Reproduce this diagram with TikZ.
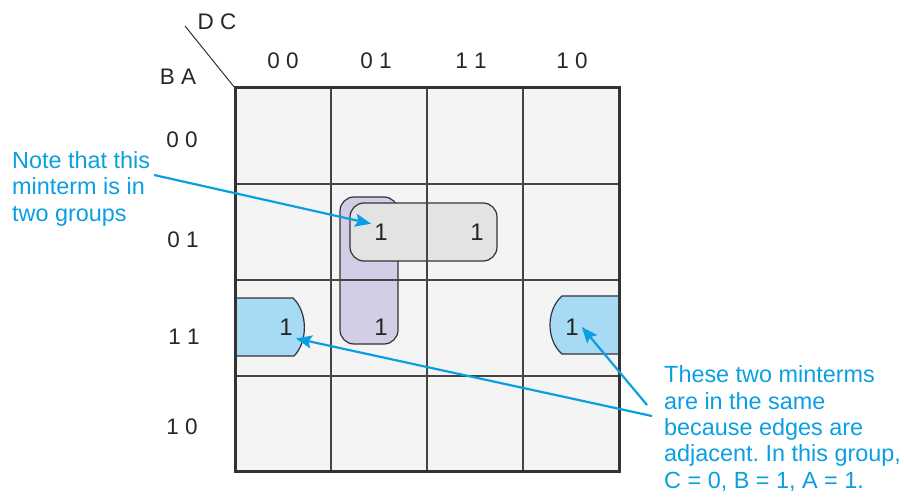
\documentclass[tikz,border=0pt]{standalone}
\usepackage{fontspec}
\setmainfont{Liberation Sans}
\frenchspacing
\usetikzlibrary{arrows.meta, calc}
\definecolor{inkcyan}{HTML}{0A9FE2}
\definecolor{cellbg}{HTML}{F4F4F4}
\definecolor{gridline}{HTML}{444444}
\definecolor{framedark}{HTML}{333333}
\definecolor{lilac}{HTML}{D3CEE6}
\definecolor{pairgrey}{HTML}{E3E3E3}
\definecolor{skyblue}{HTML}{A6DAF5}
\tikzset{
  axislabel/.style={inner sep=0pt, font=\fontsize{22.5}{26}\selectfont, text=black!85},
  onecell/.style={inner sep=3pt, font=\fontsize{24}{28}\selectfont, text=black!85},
  notetext/.style={inner sep=0pt, align=left, text=inkcyan,
    font=\fontsize{23.4}{26.3}\selectfont},
  grouplilac/.style={draw=framedark, line width=1.2pt, fill=lilac, rounded corners=14pt},
  groupgrey/.style={draw=framedark, line width=1.2pt, fill=pairgrey, rounded corners=14pt},
  groupsky/.style={draw=framedark, line width=1.2pt, fill=skyblue},
  callout/.style={-{Stealth[length=16pt, width=13pt, inset=3pt]}, line width=2.2pt, inkcyan},
}

\begin{document}
\begin{tikzpicture}[x=1pt, y=-1pt]
\useasboundingbox (0,0) rectangle (904,497);
% map background
\fill[cellbg] (235,88) rectangle (619,471);
% groups
\draw[grouplilac] (340,197) rectangle (398,344);
\draw[groupgrey] (350,203) rectangle (497,261);
\draw[groupsky] (235,298) -- (293,298) .. controls (308,312) and (308,342) .. (294,356) -- (235,356) -- cycle;
\draw[groupsky] (619,296) -- (562,296) .. controls (546,310) and (546,340) .. (562,354) -- (619,354) -- cycle;
% grid
\foreach \gx in {331,427,523}
  \draw[gridline, line width=1.3pt] (\gx,88) -- (\gx,471);
\foreach \gy in {184,280,376}
  \draw[gridline, line width=1.3pt] (235,\gy) -- (619,\gy);
\draw[framedark, line width=3pt] (235,88) rectangle (619,471);
\draw[framedark, line width=1pt] (185,26) -- (235,88);
% variable labels
\node[axislabel] (dc) at (217,22) {D C};
\node[axislabel] (ba) at (178,77) {B A};
\node[axislabel] (c00) at (283,61) {0 0};
\node[axislabel] (c01) at (376,61) {0 1};
\node[axislabel] (c11) at (471,61) {1 1};
\node[axislabel] (c10) at (572,61) {1 0};
\node[axislabel] (r00) at (182,140) {0 0};
\node[axislabel] (r01) at (183,240) {0 1};
\node[axislabel] (r11) at (184,337) {1 1};
\node[axislabel] (r10) at (182,427) {1 0};
% minterms
\node[onecell] (one5) at (381,232) {1};
\node[onecell] (one13) at (477,232) {1};
\node[onecell] (one7) at (381,327) {1};
\node[onecell] (one3) at (286,327) {1};
\node[onecell] (one11) at (572,327) {1};
% notes
\node[notetext, anchor=base west] (noteTxt) at (12,221) {Note that this\\minterm is in\\two groups};
\node[notetext, anchor=base west] (edgeTxt) at (664,488) {These two minterms\\are in the same\\because edges are\\adjacent. In this group,\\C = 0, B = 1, A = 1.};
\coordinate (noteTail) at (154,175);
\coordinate (edgeTailA) at (647,405);
\coordinate (edgeTailB) at (652,416);
\draw[callout] (noteTail) -- (one5.140);
\draw[callout] (edgeTailA) -- (one11.east);
\draw[callout] (edgeTailB) -- (one3.south east);
\end{tikzpicture}
\end{document}
